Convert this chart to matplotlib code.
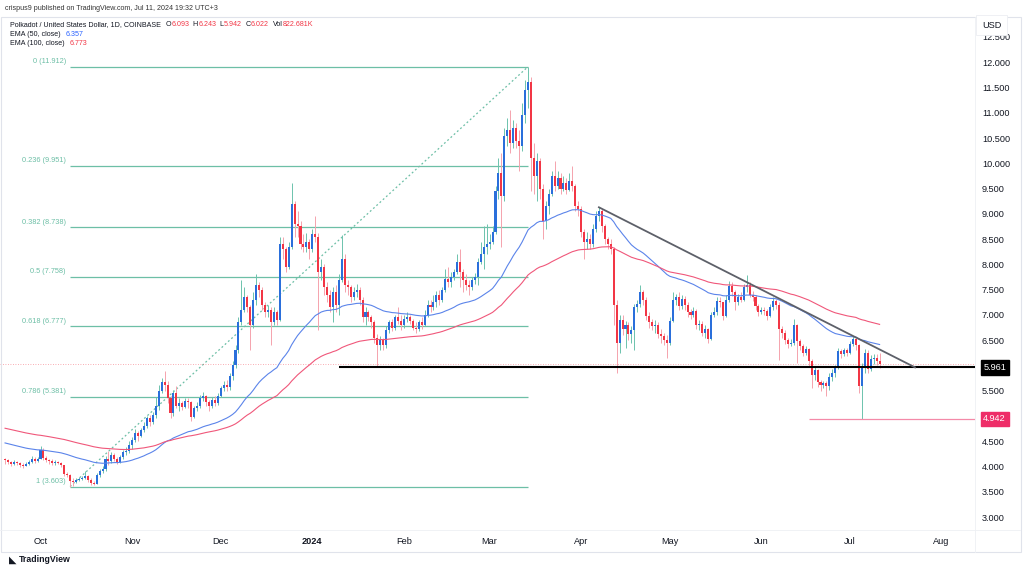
import pandas as pd
import matplotlib
matplotlib.use('Agg')
import matplotlib.pyplot as plt
import matplotlib.dates as mdates
from matplotlib.patches import Rectangle
from matplotlib.transforms import blended_transform_factory

plt.rcParams['font.family'] = ['Liberation Sans', 'DejaVu Sans']

# DOT/USD daily candles, 2023-09-19 .. 2024-07-11 (open = previous close)
start_date = '2023-09-19'
first_open = 4.15

closes = [
    # Sep 19-30
    4.12, 4.08, 4.05, 4.09, 4.06, 4.03, 4.01, 4.05, 4.09, 4.14, 4.11, 4.15,
    # Oct
    4.32, 4.16, 4.12, 4.10, 4.06, 4.09, 4.07, 4.02, 3.86, 3.84, 3.72, 3.70, 3.73, 3.76, 3.78, 3.82,
    3.74, 3.68, 3.66, 3.83, 3.92, 3.95, 4.15, 4.10, 4.22, 4.15, 4.08, 4.18, 4.28, 4.30, 4.42,
    # Nov
    4.52, 4.66, 4.60, 4.72, 4.80, 4.95, 4.88, 5.02, 5.20, 5.50, 5.68, 5.62, 5.35, 5.05, 5.45,
    5.20, 5.25, 5.18, 5.30, 5.28, 4.98, 5.15, 5.20, 5.35, 5.40, 5.28, 5.20, 5.32, 5.25, 5.40,
    # Dec
    5.55, 5.62, 5.58, 5.80, 6.00, 6.30, 6.85, 7.10, 7.35, 7.15, 6.80, 7.30, 7.60, 7.50, 7.20, 7.05,
    7.10, 6.85, 7.05, 6.90, 8.40, 8.30, 7.95, 8.35, 9.20, 8.80, 8.75, 8.40, 8.35, 8.45, 8.30,
    # Jan
    8.60, 8.55, 7.85, 7.95, 7.55, 7.40, 7.15, 7.45, 7.20, 7.70, 8.10, 7.60, 7.55, 7.35, 7.45, 7.50,
    7.30, 6.95, 7.05, 6.95, 6.85, 6.55, 6.40, 6.50, 6.40, 6.70, 6.85, 6.75, 6.95, 6.88, 6.80,
    # Feb
    6.92, 6.95, 6.88, 6.75, 6.72, 6.85, 6.80, 7.00, 7.20, 7.15, 7.25, 7.40, 7.30, 7.50, 7.72,
    7.65, 7.75, 7.85, 8.05, 7.85, 7.70, 7.60, 7.55, 7.70, 7.75, 8.05, 8.20, 8.35, 8.40,
    # Mar
    8.45, 8.65, 9.45, 9.80, 9.35, 10.55, 10.65, 10.40, 10.70, 10.45, 10.35, 10.95, 11.45, 11.60,
    10.10, 9.75, 10.05, 9.50, 8.85, 9.15, 9.40, 9.75, 9.55, 9.70, 9.50, 9.62, 9.48, 9.65, 9.55,
    9.15, 9.10,
    # Apr
    8.65, 8.45, 8.50, 8.40, 8.70, 8.95, 9.05, 8.75, 8.50, 8.40, 8.30, 7.20, 6.45, 6.90, 6.72,
    6.80, 6.62, 6.70, 7.15, 7.22, 7.45, 7.30, 6.98, 6.85, 6.78, 6.80, 6.62, 6.58, 6.50, 6.45,
    # May
    6.88, 7.30, 7.35, 7.18, 7.32, 7.20, 7.05, 7.00, 7.08, 6.80, 6.82, 6.65, 6.72, 6.52, 7.00, 7.05,
    7.28, 7.25, 6.98, 7.30, 7.58, 7.45, 7.25, 7.35, 7.30, 7.55, 7.60, 7.40, 7.35, 7.18, 7.05,
    # Jun
    7.10, 7.08, 6.98, 7.15, 7.28, 7.20, 6.72, 6.65, 6.50, 6.42, 6.45, 6.80, 6.48, 6.38, 6.25,
    6.32, 6.08, 5.82, 5.90, 5.68, 5.62, 5.65, 5.60, 5.78, 5.85, 5.95, 6.28, 6.22, 6.30, 6.25,
    # Jul 1-11
    6.42, 6.52, 6.40, 5.60, 5.95, 6.25, 5.92, 6.12, 6.15, 6.093, 6.022,
]

highs = [
    4.16, 4.14, 4.10, 4.12, 4.10, 4.08, 4.06, 4.09, 4.13, 4.20, 4.18, 4.19,
    4.40, 4.36, 4.20, 4.15, 4.14, 4.13, 4.11, 4.09, 4.03, 3.90, 3.86, 3.77, 3.78, 3.79, 3.81, 3.92,
    3.84, 3.77, 3.71, 3.87, 3.96, 4.00, 4.20, 4.30, 4.28, 4.26, 4.18, 4.22, 4.33, 4.38, 4.50,
    4.58, 4.74, 4.70, 4.76, 4.88, 5.00, 5.02, 5.08, 5.38, 5.62, 5.75, 5.88, 5.70, 5.40, 5.52,
    5.60, 5.35, 5.30, 5.36, 5.36, 5.30, 5.20, 5.28, 5.42, 5.48, 5.42, 5.32, 5.38, 5.40, 5.45,
    5.60, 5.70, 5.72, 5.85, 6.08, 6.40, 6.95, 7.70, 7.55, 7.40, 7.20, 7.45, 7.80, 7.65, 7.55, 7.25,
    7.20, 7.15, 7.15, 7.10, 8.55, 8.55, 8.35, 8.45, 9.62, 9.25, 9.05, 8.85, 8.60, 8.62, 8.50,
    8.70, 8.95, 8.62, 8.10, 8.00, 7.65, 7.50, 7.55, 7.60, 7.80, 8.58, 8.20, 7.70, 7.60, 7.55, 7.62,
    7.55, 7.35, 7.15, 7.10, 7.00, 6.90, 6.62, 6.58, 6.55, 6.78, 6.90, 6.92, 7.00, 7.15, 7.00,
    7.00, 7.05, 7.00, 6.92, 6.85, 6.90, 6.95, 7.10, 7.30, 7.30, 7.40, 7.48, 7.50, 7.55, 7.90,
    7.95, 7.85, 7.90, 8.20, 8.30, 7.90, 7.80, 7.70, 7.75, 7.82, 8.12, 8.45, 8.75, 8.80,
    8.60, 8.75, 9.55, 10.10, 10.20, 10.70, 10.90, 11.05, 10.85, 10.80, 10.65, 11.20, 11.65, 11.912,
    11.70, 10.40, 10.20, 10.10, 9.60, 9.25, 9.50, 9.85, 10.05, 9.85, 9.80, 9.75, 9.70, 9.80, 9.95,
    9.60, 9.25,
    9.15, 8.70, 8.65, 8.60, 8.80, 9.05, 9.13, 9.10, 8.80, 8.55, 8.50, 8.35, 7.30, 7.00, 7.00,
    6.88, 6.85, 6.78, 7.22, 7.30, 7.60, 7.50, 7.35, 7.05, 6.92, 6.90, 6.85, 6.72, 6.65, 6.60,
    6.95, 7.45, 7.42, 7.45, 7.40, 7.38, 7.25, 7.12, 7.15, 7.12, 6.90, 6.88, 6.80, 6.75, 7.05, 7.15,
    7.35, 7.35, 7.25, 7.40, 7.68, 7.65, 7.50, 7.42, 7.45, 7.62, 7.79, 7.65, 7.48, 7.40, 7.22,
    7.15, 7.15, 7.12, 7.22, 7.35, 7.32, 7.25, 6.78, 6.70, 6.55, 6.52, 6.92, 6.82, 6.52, 6.42,
    6.38, 6.35, 6.12, 5.98, 5.92, 5.72, 5.70, 5.70, 5.85, 5.92, 6.00, 6.35, 6.32, 6.35, 6.35,
    6.48, 6.58, 6.55, 6.42, 6.05, 6.32, 6.30, 6.20, 6.22, 6.22, 6.243,
]

lows = [
    4.05, 4.04, 4.00, 4.02, 4.02, 3.98, 3.97, 4.00, 4.03, 4.07, 4.06, 4.09,
    4.14, 4.12, 4.08, 4.05, 4.02, 4.03, 4.04, 3.98, 3.82, 3.79, 3.603, 3.62, 3.67, 3.71, 3.73, 3.76,
    3.70, 3.64, 3.63, 3.65, 3.80, 3.88, 3.92, 4.03, 4.06, 4.10, 4.04, 4.07, 4.15, 4.22, 4.26,
    4.35, 4.48, 4.50, 4.58, 4.68, 4.76, 4.80, 4.85, 4.95, 5.12, 5.45, 5.50, 5.25, 4.95, 5.00,
    5.15, 5.10, 5.12, 5.15, 5.15, 4.90, 4.95, 5.10, 5.15, 5.30, 5.20, 5.10, 5.15, 5.20, 5.22,
    5.38, 5.50, 5.50, 5.52, 5.72, 5.95, 6.25, 6.80, 7.05, 7.05, 6.30, 6.75, 7.20, 7.35, 7.10, 6.95,
    6.95, 6.40, 6.80, 6.80, 6.88, 8.10, 7.85, 7.90, 8.30, 8.55, 8.55, 8.30, 8.25, 8.25, 8.10,
    8.25, 8.45, 6.70, 7.70, 7.40, 7.25, 7.05, 6.85, 7.05, 7.00, 7.65, 7.45, 7.40, 7.25, 7.30, 7.35,
    7.20, 6.85, 6.80, 6.88, 6.75, 6.45, 5.961, 6.30, 6.30, 6.35, 6.65, 6.68, 6.70, 6.82, 6.70,
    6.75, 6.85, 6.82, 6.70, 6.65, 6.68, 6.72, 6.78, 6.95, 7.05, 7.10, 7.15, 7.20, 7.25, 7.45,
    7.55, 7.55, 7.70, 7.80, 7.55, 7.45, 7.50, 7.40, 7.50, 7.62, 7.60, 8.00, 7.90, 8.20,
    8.30, 8.40, 8.60, 9.30, 8.35, 9.25, 10.35, 10.20, 10.30, 10.30, 9.85, 10.25, 10.80, 11.10,
    9.45, 9.40, 9.25, 9.30, 8.50, 8.70, 9.00, 9.35, 9.45, 9.50, 9.40, 9.45, 9.40, 9.45, 9.45,
    9.05, 8.95,
    8.55, 8.10, 8.30, 8.30, 8.35, 8.65, 8.85, 8.65, 8.40, 8.30, 8.20, 6.80, 5.85, 6.25, 6.60,
    6.35, 6.50, 6.45, 6.30, 7.05, 7.15, 7.20, 6.90, 6.75, 6.70, 6.65, 6.55, 6.45, 6.40, 6.15,
    6.40, 6.85, 7.20, 7.10, 7.12, 7.10, 6.95, 6.92, 6.95, 6.72, 6.70, 6.58, 6.55, 6.45, 6.50, 6.95,
    7.00, 7.15, 6.90, 6.95, 7.25, 7.38, 7.10, 7.20, 7.25, 7.28, 7.45, 7.35, 7.28, 7.10, 6.98,
    7.02, 7.00, 6.90, 6.95, 7.10, 7.12, 6.10, 6.55, 6.42, 6.35, 6.38, 6.40, 6.05, 6.30, 6.18,
    6.20, 5.98, 5.55, 5.72, 5.58, 5.50, 5.55, 5.40, 5.52, 5.70, 5.78, 5.92, 6.15, 6.18, 6.18,
    6.22, 6.38, 6.30, 5.45, 4.942, 5.85, 5.85, 5.88, 6.02, 6.00, 5.942,
]

# EMA values at the left edge of the chart
ema50_seed = 4.48
ema100_seed = 4.77

fib_levels = ['0', '0.236', '0.382', '0.5', '0.618', '0.786', '1']
fib_prices = [11.912, 9.951, 8.738, 7.758, 6.777, 5.381, 3.603]
fib_start, fib_end = '2023-10-11', '2024-03-14'

support_price, support_start = 5.961, '2024-01-10'
low_price, low_start = 4.942, '2024-06-17'
trend_dates = ['2024-04-07', '2024-07-23']
trend_prices = [9.13, 5.961]

month_ticks = pd.date_range('2023-10-01', '2024-08-01', freq='MS')
month_labels = ['Oct', 'Nov', 'Dec', '2024', 'Feb', 'Mar', 'Apr', 'May', 'Jun', 'Jul', 'Aug']
price_ticks = [3.0 + 0.5 * i for i in range(20)]

UP_BODY, UP_WICK = '#2a6fdb', '#6cc3ad'
DN_BODY, DN_WICK = '#f23645', '#f5a3ad'
FIB = '#6dbfa6'
TXT = '#131722'
RED = '#f23645'


def ema(values, span, seed):
    alpha = 2 / (span + 1)
    out, prev = [], seed
    for v in values:
        prev = prev + alpha * (v - prev)
        out.append(prev)
    return out


def px(xp, yp):
    return xp / 1024, 1 - yp / 570


def text_run(fig, renderer, xp, yp, pieces, size):
    """Write text pieces one after the other on a line; pieces are (text, color, gap_after)."""
    for txt, color, gap in pieces:
        t = fig.text(*px(xp, yp), txt, fontsize=size, color=color, va='center')
        xp += t.get_window_extent(renderer=renderer).width + gap


def main():
    dates = pd.date_range(start_date, periods=len(closes), freq='D')
    opens = [first_open] + closes[:-1]
    x = mdates.date2num(dates)

    fig = plt.figure(figsize=(10.24, 5.70), dpi=100)
    ax = fig.add_axes([0, 1 - 530 / 570, 975 / 1024, 512 / 570])

    # candles
    for xi, o, h, l, c in zip(x, opens, highs, lows, closes):
        up = c >= o
        ax.vlines(xi, min(l, o, c), max(h, o, c), color=UP_WICK if up else DN_WICK, lw=0.7, zorder=2)
        body = max(abs(c - o), 0.012)
        ax.bar(xi, body, bottom=min(o, c), width=0.7, color=UP_BODY if up else DN_BODY,
               lw=0, zorder=3)

    # EMAs
    ax.plot(x, ema(closes, 50, ema50_seed), color='#5b84ea', lw=0.8, zorder=4)
    ax.plot(x, ema(closes, 100, ema100_seed), color='#f0577a', lw=0.8, zorder=4)

    # fibonacci retracement
    fx0 = mdates.date2num(pd.Timestamp(fib_start))
    fx1 = mdates.date2num(pd.Timestamp(fib_end))
    for lvl, p in zip(fib_levels, fib_prices):
        ax.hlines(p, fx0, fx1, color=FIB, lw=0.9, zorder=1)
        ax.annotate(f'{lvl} ({p:.3f})', (fx0, p), xytext=(-3, 1), textcoords='offset points',
                    ha='right', va='bottom', fontsize=5.3, color=FIB)
    ax.plot([fx0, fx1], [fib_prices[-1], fib_prices[0]], color=FIB, lw=0.9,
            linestyle=(0, (1.5, 2)), zorder=1)

    # last price line
    ax.axhline(closes[-1], color=RED, lw=0.6, alpha=0.55, linestyle=(0, (1, 2)), zorder=1)

    # support, low and falling trend line
    ax.hlines(support_price, mdates.date2num(pd.Timestamp(support_start)), 1e9, color='black',
              lw=1.5, zorder=5)
    ax.hlines(low_price, mdates.date2num(pd.Timestamp(low_start)), 1e9, color='#f48aa8',
              lw=0.9, zorder=5)
    ax.plot(mdates.date2num(pd.to_datetime(trend_dates)), trend_prices, color='#5d6069',
            lw=1.3, zorder=5)

    x_left = mdates.date2num(pd.Timestamp('2023-09-17 07:00'))
    ax.set_xlim(x_left, x_left + 330)
    ax.set_ylim(2.743, 12.876)

    # axes styling
    for s in ax.spines.values():
        s.set_visible(False)
    ax.yaxis.tick_right()
    ax.set_yticks(price_ticks)
    ax.set_yticklabels([f'{p:.3f}' for p in price_ticks])
    ax.set_xticks(mdates.date2num(month_ticks))
    ax.set_xticklabels(month_labels)
    ax.tick_params(axis='y', length=0, pad=5, labelsize=6.6, labelcolor=TXT)
    ax.tick_params(axis='x', length=0, pad=5, labelsize=6.6, labelcolor=TXT)
    for lab in ax.get_xticklabels():
        if lab.get_text() == '2024':
            lab.set_fontweight('bold')

    # price tags on the scale
    tr = blended_transform_factory(ax.transAxes, ax.transData)
    ax.text(1.0085, support_price, f'{support_price:.3f}', transform=tr, ha='left', va='center',
            fontsize=6.6, color='white', zorder=10,
            bbox=dict(boxstyle='square,pad=0.3', fc='black', ec='black'))
    ax.text(1.0085, low_price, f'{low_price:.3f}', transform=tr, ha='left', va='center',
            fontsize=6.6, color='white', zorder=10,
            bbox=dict(boxstyle='square,pad=0.3', fc='#ee2d68', ec='#ee2d68'))
    fig.text(*px(982, 25), 'USD', fontsize=6.6, color=TXT, va='center', zorder=10,
             bbox=dict(boxstyle='square,pad=0.65', fc='white', ec='#eceef2', lw=0.6))

    # frame
    fig.patches.append(Rectangle((0.5 / 1024, 1 - 552 / 570), 1020 / 1024, 535 / 570,
                                 transform=fig.transFigure, fill=False, ec='#e0e3eb', lw=0.8))
    fig.add_artist(plt.Line2D([975 / 1024, 975 / 1024], [1 - 552 / 570, 1 - 17 / 570],
                              color='#eef0f4', lw=0.6))
    fig.add_artist(plt.Line2D([0, 1020 / 1024], [1 - 530 / 570, 1 - 530 / 570],
                              color='#eef0f4', lw=0.6))

    fig.text(*px(5, 8), 'crispus9 published on TradingView.com, Jul 11, 2024 19:32 UTC+3',
             fontsize=5.15, color='#333333', va='center')

    # legend
    renderer = fig.canvas.get_renderer()
    size = 5.1
    text_run(fig, renderer, 10.5, 24.5, [
        ('Polkadot / United States Dollar, 1D, COINBASE', TXT, 4),
        ('O', TXT, 0.3), ('6.093', RED, 3.5),
        ('H', TXT, 0.3), ('6.243', RED, 3.5),
        ('L', TXT, 0.3), ('5.942', RED, 3.5),
        ('C', TXT, 0.3), ('6.022', RED, 3.5),
        ('Vol', TXT, 0.3), ('822.681K', RED, 0),
    ], size)
    text_run(fig, renderer, 10.5, 34, [('EMA (50, close)', TXT, 4), ('6.357', '#2962ff', 0)], size)
    text_run(fig, renderer, 10.5, 43.5, [('EMA (100, close)', TXT, 4), ('6.773', RED, 0)], size)

    # footer logo
    fig.text(*px(9, 560), '\u25e3', fontsize=7, color=TXT, va='center')
    fig.text(*px(19, 560), 'TradingView', fontsize=6.3, color=TXT, va='center', fontweight='bold')

    fig.savefig('out.png', dpi=100, facecolor='white')


if __name__ == '__main__':
    main()
